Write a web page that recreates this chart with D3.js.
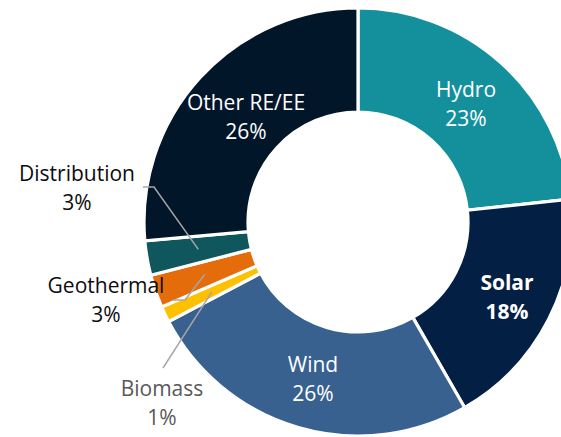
<!DOCTYPE html>
<html>
<head>
<meta charset="utf-8">
<script src="https://cdn.jsdelivr.net/npm/d3@7"></script>
<style>
  html, body { margin: 0; padding: 0; background: #ffffff; }
  svg { display: block; }
</style>
</head>
<body>
<svg id="chart" width="561" height="437"></svg>
<script>
// ---- data ----
const categories = ["Hydro", "Solar", "Wind", "Biomass", "Geothermal", "Distribution", "Other RE/EE"];
const values     = [23.3, 18.4, 25.6, 1.2, 2.5, 2.6, 26.4];
const pctLabels  = ["23%", "18%", "26%", "1%", "3%", "3%", "26%"];
const colors     = ["#14909C", "#031F44", "#38618F", "#FFC000", "#E46C0A", "#0F575D", "#02162A"];

// ---- layout ----
const W = 561, H = 437;
const cx = 358, cy = 222;
const rOuter = 214, rInner = 110;

const svg = d3.select("#chart");
const g = svg.append("g").attr("transform", `translate(${cx},${cy})`);

const data = categories.map((c, i) => ({ name: c, value: values[i], pct: pctLabels[i], color: colors[i] }));

const pie = d3.pie().value(d => d.value).sort(null).startAngle(0).endAngle(2 * Math.PI);
const arcs = pie(data);
const arc = d3.arc().innerRadius(rInner).outerRadius(rOuter);

g.selectAll("path.slice")
  .data(arcs)
  .join("path")
  .attr("class", "slice")
  .attr("d", arc)
  .attr("fill", d => d.data.color)
  .attr("stroke", "#ffffff")
  .attr("stroke-width", 3.2)
  .attr("stroke-linejoin", "miter");

// label placement (label centre / first baseline)
const labelSpec = {
  "Hydro":        { x: 466, y: 97,  color: "#ffffff", bold: false },
  "Solar":        { x: 507, y: 290, color: "#ffffff", bold: true },
  "Wind":         { x: 313, y: 372, color: "#ffffff", bold: false },
  "Other RE/EE":  { x: 246, y: 110, color: "#ffffff", bold: false },
  "Distribution": { x: 77,  y: 181, color: "#0d0d0d", bold: false,
                    leader: [[143, 187], [154, 187]] },
  "Geothermal":   { x: 106, y: 293, color: "#0d0d0d", bold: false,
                    leader: [[173, 300], [185, 300]] },
  "Biomass":      { x: 162, y: 396, color: "#595959", bold: false,
                    leader: [[163, 368]] }
};

const lineGap = 29;
const font = "'Open Sans', 'Noto Sans', sans-serif";

// leader lines to slice centroids
const leaderLayer = svg.append("g");
arcs.forEach(a => {
  const spec = labelSpec[a.data.name];
  if (!spec.leader) return;
  const c = arc.centroid(a);
  const pts = spec.leader.concat([[cx + c[0], cy + c[1]]]);
  leaderLayer.append("path")
    .attr("d", d3.line()(pts))
    .attr("fill", "none")
    .attr("stroke", "#A6A6A6")
    .attr("stroke-width", 1.5);
});

const labels = svg.append("g");
arcs.forEach(a => {
  const spec = labelSpec[a.data.name];
  const t = labels.append("text")
    .attr("text-anchor", "middle")
    .attr("font-family", font)
    .attr("font-size", 21)
    .attr("font-weight", spec.bold ? 700 : 400)
    .attr("fill", spec.color);
  t.append("tspan").attr("x", spec.x).attr("y", spec.y).text(a.data.name);
  t.append("tspan").attr("x", spec.x).attr("y", spec.y + lineGap).text(a.data.pct);
});
</script>
</body>
</html>
